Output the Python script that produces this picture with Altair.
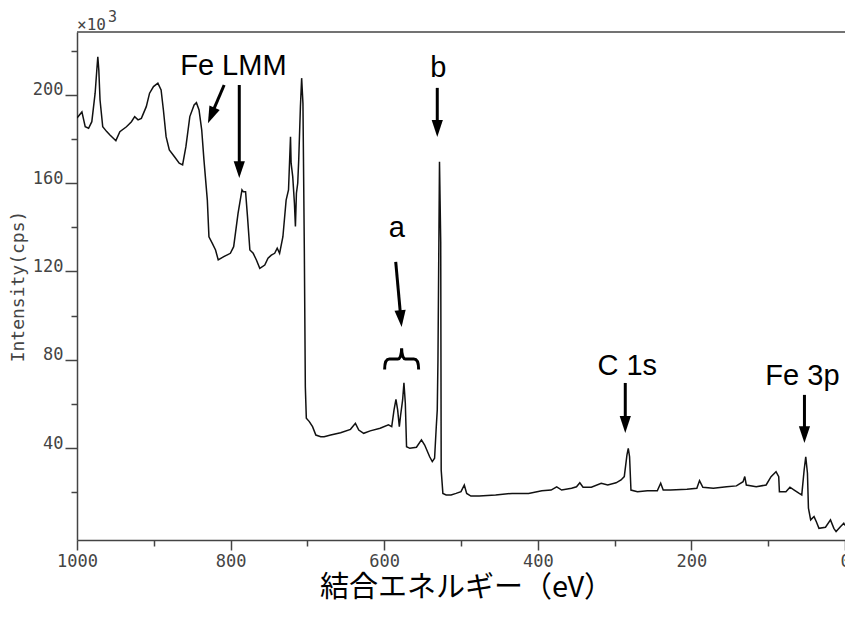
import altair as alt
import pandas as pd

# ---- spectrum (binding energy eV, intensity x10^3 cps) ----
energy = [1000, 993.6, 989.3, 984.9, 980.7, 976.4, 974.2, 972.9, 971.6, 970.0,
          966.5, 961.3, 957.1, 952.7, 949.4, 944.2, 935.6, 929.1, 924.9, 920.5,
          916.2, 909.8, 905.5, 900.4, 894.7, 890.5, 887.5, 884.0, 879.8, 873.3,
          866.9, 862.5, 858.2, 853.1, 847.5, 844.5, 841.1, 837.6, 834.7, 830.3,
          828.2, 823.8, 819.6, 816.1, 808.9, 800.3, 796.0, 790.3, 785.2,
          783.5, 780.5, 778.0, 774.9, 770.6, 766.4, 762.0, 755.5, 751.3, 747.0,
          742.6, 739.3, 736.2, 731.9, 727.7, 724.6, 722.0, 721.2, 719.1, 716.9,
          715.6, 714.3, 712.6, 711.3, 709.1, 707.5, 705.8, 704.0, 702.7, 701.4,
          697.5, 693.3, 689.0, 682.6,
          678.2, 669.7, 656.8, 643.9, 637.5, 633.1, 626.7, 618.2, 605.3, 594.5,
          590.2, 587.2, 584.7, 582.5, 580.3, 578.6, 576.0, 574.3, 572.5, 570.9,
          566.6, 558.0, 551.5, 547.3, 540.8, 537.4, 534.4, 532.2, 530.9, 530.0,
          528.0, 526.4, 525.8, 523.6,
          519.3, 512.9, 506.4, 500.0, 495.7, 492.6, 487.1, 476.4, 454.9, 433.4,
          412.0, 394.7, 382.7, 375.4, 368.9, 356.0, 349.6, 345.3, 341.1, 330.3,
          317.4, 308.9, 298.1, 291.6, 287.4, 283.9, 282.2, 280.5, 278.7, 270.2,
          257.3, 244.4, 240.0, 236.7, 227.2, 205.8, 192.9, 189.4, 185.1, 171.4,
          154.2, 141.4, 132.7, 130.5, 128.5, 115.6, 102.7, 96.3, 89.8, 86.3,
          85.4, 76.9, 71.7, 66.1, 59.6, 56.3, 53.2, 51.1, 48.9, 47.6,
          44.7, 40.3, 37.3, 33.9, 25.4, 18.9, 14.5, 11.6, 6.0, 1.6, 0]

intensity = [189.5, 192.2, 185.5, 184.8, 187.8, 200.7, 211.2, 217.2, 211.2, 197.6,
             185.5, 183.3, 181.8, 180.3, 179.2, 183.3, 185.5, 187.8, 190.1, 188.6,
             189.3, 194.6, 200.7, 203.7, 205.2, 202.2, 193.1, 181.0, 175.0, 172.0,
             169.0, 168.2, 176.5, 190.1, 195.4, 196.4, 193.1, 184.0, 170.5, 152.3,
             135.7, 132.7, 129.7, 125.2, 126.7, 128.2, 131.2, 146.3, 156.9,
             156.1, 156.1, 144.8, 129.7, 128.2, 125.2, 121.4, 122.9, 126.0, 127.4,
             128.2, 130.5, 128.2, 135.7, 152.3, 156.9, 181.0, 169.0, 162.9, 150.9,
             140.3, 155.4, 159.9, 170.5, 194.6, 207.5, 196.1, 129.7, 67.8, 53.5,
             52.0, 49.7, 45.9, 45.2,
             45.2, 45.9, 47.0, 48.5, 51.2, 48.2, 46.7, 47.8, 49.0, 50.5,
             49.7, 57.3, 62.1, 57.3, 49.7, 55.0, 61.8, 69.6, 60.3, 40.6,
             39.9, 40.4, 43.7, 41.4, 36.1, 33.9, 35.4, 49.7, 57.3, 79.9,
             169.7, 133.3, 30.1, 19.5,
             18.8, 18.8, 19.5, 20.3, 23.3, 19.5, 18.3, 18.3, 18.8, 19.5,
             19.5, 20.7, 21.0, 22.5, 21.0, 21.8, 22.5, 24.3, 22.3, 22.3,
             24.1, 23.3, 24.3, 25.6, 27.1, 36.9, 39.9, 36.1, 21.0, 20.3,
             20.7, 20.7, 24.1, 21.0, 21.0, 21.4, 21.8, 25.3, 22.3, 21.8,
             22.5, 22.9, 24.8, 27.1, 23.3, 22.5, 23.3, 27.1, 29.3, 27.1,
             20.3, 20.3, 22.3, 21.0, 19.5, 18.8, 30.1, 36.1, 28.6, 12.8,
             7.5, 9.0, 6.7, 3.7, 4.2, 7.5, 3.7, 2.2, 4.4, 6.0, 5.0]

# ---- annotations ----
label_text = ["Fe LMM", "b", "a", "C 1s", "Fe 3p"]
label_x = [796.4, 529.6, 583.7, 283.5, 55.4]
label_y = [209.0, 208.0, 135.6, 73.1, 68.6]

arrow_start_x = [808.4, 788.7, 530.9, 585.0, 286.1, 52.8]
arrow_start_y = [204.4, 204.4, 203.1, 124.3, 69.5, 64.1]
arrow_shaft_x = [824.5, 788.7, 530.9, 578.5, 286.1, 52.8]
arrow_shaft_y = [191.3, 166.8, 185.4, 99.4, 51.4, 46.8]
arrow_tip_x = [829.5, 788.7, 530.9, 577.3, 286.1, 52.8]
arrow_tip_y = [187.1, 162.3, 180.9, 94.8, 46.9, 42.3]
arrow_angle = [23.2, 0, 0, 354.7, 0, 0]

brace_x = [577.3]
brace_y = [80.4]

x_ticks = list(range(0, 1001, 50))
y_ticks = list(range(20, 221, 20))

W, H = 768, 508
AXC = "#444444"
MONO = "DejaVu Sans Mono"

xscale = alt.Scale(domain=[1000, 0], nice=False, zero=False)
yscale = alt.Scale(domain=[-1.6, 228.4], nice=False, zero=False)

x_axis = alt.Axis(
    values=x_ticks, format="d",
    labelExpr="datum.value % 200 === 0 ? datum.label : ''",
    tickSize={"condition": {"test": "datum.value % 200 === 0", "value": 10}, "value": 6},
    tickColor=AXC, tickWidth=1.5, domainColor=AXC, domainWidth=1.5,
    grid=False, labelFlush=False, labelFont=MONO, labelFontSize=17,
    labelColor=AXC, labelPadding=3, labelBaseline="top",
    title="結合エネルギー（eV）", titleFont="Noto Sans CJK JP", titleFontSize=29,
    titleFontWeight="normal", titleColor="#000000", titleX=389, titleY=56,
    titleAlign="center", titleBaseline="alphabetic",
)
y_axis = alt.Axis(
    values=y_ticks, format="d",
    labelExpr="datum.value % 40 === 0 ? datum.label : ''",
    tickSize={"condition": {"test": "datum.value % 40 === 0", "value": 12}, "value": 6},
    tickColor=AXC, tickWidth=1.5, domainColor=AXC, domainWidth=1.5,
    grid=False, labelFlush=False, labelFont=MONO, labelFontSize=17,
    labelColor=AXC, labelPadding=2, labelBaseline="alphabetic", labelAlign="right",
    title="Intensity(cps)", titleFont=MONO, titleFontSize=18, titleFontWeight="normal",
    titleColor=AXC, titleX=-58.5, titleY=254, titleAngle=270,
    titleAlign="center", titleBaseline="middle",
)

spec_df = pd.DataFrame({"x": energy, "y": intensity})
line = alt.Chart(spec_df).mark_line(color="#111111", strokeWidth=1.5, clip=True).encode(
    x=alt.X("x:Q", scale=xscale, axis=x_axis),
    y=alt.Y("y:Q", scale=yscale, axis=y_axis),
)

lab_df = pd.DataFrame({"x": label_x, "y": label_y, "t": label_text})
labels = alt.Chart(lab_df).mark_text(
    font="Liberation Sans", fontSize=29, color="#000000", align="center", baseline="alphabetic"
).encode(x=alt.X("x:Q", scale=xscale), y=alt.Y("y:Q", scale=yscale), text="t:N")

shaft_df = pd.DataFrame({"x": arrow_start_x, "y": arrow_start_y,
                         "x2": arrow_shaft_x, "y2": arrow_shaft_y})
shafts = alt.Chart(shaft_df).mark_rule(color="#000000", strokeWidth=3).encode(
    x=alt.X("x:Q", scale=xscale), y=alt.Y("y:Q", scale=yscale), x2="x2:Q", y2="y2:Q")

head_df = pd.DataFrame({"x": arrow_tip_x, "y": arrow_tip_y, "a": arrow_angle})
heads = alt.Chart(head_df).mark_point(
    shape="M -0.7 -2.1 L 0.7 -2.1 L 0 0 Z", size=256, filled=True,
    color="#000000", opacity=1, strokeWidth=0
).encode(x=alt.X("x:Q", scale=xscale), y=alt.Y("y:Q", scale=yscale),
         angle=alt.Angle("a:Q", scale=None))

brace_df = pd.DataFrame({"x": brace_x, "y": brace_y})
brace = alt.Chart(brace_df).mark_point(
    shape="M -1 0.62 C -1 0.15 -0.92 0 -0.72 0 L -0.22 0 C -0.08 0 0 -0.3 0 -0.62 "
          "C 0 -0.3 0.08 0 0.22 0 L 0.72 0 C 0.92 0 1 0.15 1 0.62",
    size=1156, filled=False, color="#000000", opacity=1, strokeWidth=3
).encode(x=alt.X("x:Q", scale=xscale), y=alt.Y("y:Q", scale=yscale))

frame_top = alt.Chart(pd.DataFrame({"k": [0]})).mark_rule(color=AXC, strokeWidth=1.5).encode(
    x=alt.value(0), x2=alt.value(W), y=alt.value(0))

exp_main = alt.Chart(pd.DataFrame({"t": ["×10"]})).mark_text(
    font=MONO, fontSize=16, color=AXC, align="left", baseline="alphabetic"
).encode(x=alt.value(0), y=alt.value(-2), text="t:N")
exp_sup = alt.Chart(pd.DataFrame({"t": ["3"]})).mark_text(
    font=MONO, fontSize=15, color=AXC, align="left", baseline="alphabetic"
).encode(x=alt.value(31), y=alt.value(-10), text="t:N")

chart = alt.layer(line, shafts, heads, brace, labels, frame_top, exp_main, exp_sup).properties(
    width=W, height=H,
    autosize=alt.AutoSizeParams(type="none"),
    padding={"left": 69, "top": 24, "right": 0, "bottom": 66},
    background="white",
).configure_view(stroke=None)

chart.save("out.html", embed_options={"renderer": "svg", "actions": False})
